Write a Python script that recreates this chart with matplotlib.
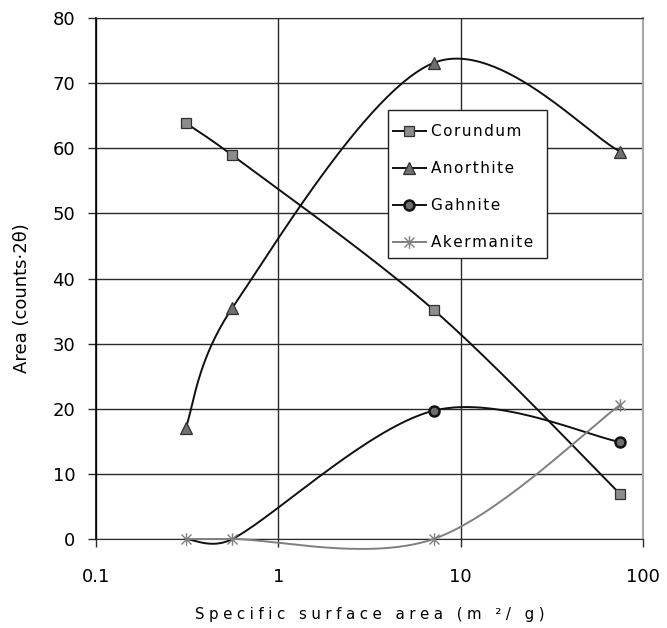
import numpy as np
import matplotlib
matplotlib.use('Agg')
import matplotlib.pyplot as plt
from matplotlib.lines import Line2D
from matplotlib.patches import Rectangle
from matplotlib.path import Path

# specific surface area (m2/g) and peak areas (counts*2theta)
ssa = [0.31, 0.56, 7.1, 75]
corundum = [63.9, 58.9, 35.2, 6.9]
anorthite = [17.0, 35.5, 73.1, 59.5]
gahnite = [0.0, 0.0, 19.7, 14.9]
akermanite = [0.0, 0.0, 0.0, 20.6]

names = ['Corundum', 'Anorthite', 'Gahnite', 'Akermanite']
x_ticks = [0.1, 1, 10, 100]
x_tick_labels = ['0.1', '1', '10', '100']
y_ticks = [0, 10, 20, 30, 40, 50, 60, 70, 80]

plt.rcParams['font.family'] = ['DejaVu Sans']


def spaced(s, gap='\u200a'):
    # wide letter spacing like the original chart font
    return gap.join(s)


def smooth_curve(ax, xs, ys, n=60):
    # spreadsheet-style bezier smoothing done in screen space
    pts = ax.transData.transform(np.column_stack([xs, ys]))
    m = len(pts)
    out = [pts[0]]
    t = np.linspace(0, 1, n)[1:, None]
    for i in range(m - 1):
        p0 = pts[i - 1] if i > 0 else pts[i]
        p1, p2 = pts[i], pts[i + 1]
        p3 = pts[i + 2] if i + 2 < m else pts[i + 1]
        half = np.hypot(*(p2 - p1)) / 2
        d1 = (p2 - p0) / 6
        d2 = (p3 - p1) / 6
        for d in (d1, d2):
            L = np.hypot(*d)
            if L > half:
                d *= half / L
        b1, b2 = p1 + d1, p2 - d2
        seg = (1 - t) ** 3 * p1 + 3 * (1 - t) ** 2 * t * b1 + 3 * (1 - t) * t ** 2 * b2 + t ** 3 * p2
        out.extend(seg)
    xy = ax.transData.inverted().transform(np.array(out))
    return xy[:, 0], xy[:, 1]


star = Path([(-1, -1), (1, 1), (-1, 1), (1, -1), (0, -1.25), (0, 1.25)],
            [Path.MOVETO, Path.LINETO, Path.MOVETO, Path.LINETO, Path.MOVETO, Path.LINETO])

fig = plt.figure(figsize=(6.67, 6.28), dpi=100)
ax = fig.add_axes([96 / 667, 89 / 628, 547 / 667, 521 / 628])
ax.set_xscale('log')
ax.set_xlim(0.1, 100)
ax.set_ylim(0, 80)
ax.set_xticks(x_ticks)
ax.set_xticklabels(x_tick_labels)
ax.set_yticks(y_ticks)
ax.minorticks_off()
ax.set_axisbelow(True)
ax.grid(True, color='#2a2a2a', linewidth=1.0)
ax.tick_params(direction='out', length=6, width=1.0, color='#2a2a2a', labelsize=13)
ax.tick_params(axis='y', pad=9)
ax.tick_params(axis='x', pad=15)
ax.spines['left'].set_color('black')
ax.spines['left'].set_linewidth(1.2)
ax.spines['bottom'].set_color('#2a2a2a')
ax.spines['top'].set_color('#2a2a2a')
ax.spines['right'].set_color('#a8a8a8')
ax.spines['right'].set_linewidth(1.5)

dark = '#101010'
grey = '#7f7f7f'
lw = 1.4

series = [
    (corundum, dark, dict(marker='s', ms=7.2, mfc='#8c8c8c', mec='#303030', mew=0.9), None),
    (anorthite, dark, dict(marker='^', ms=8.0, mfc='#707070', mec='#303030', mew=0.9), None),
    (gahnite, dark, dict(marker='o', ms=7.2, mfc='#6e6e6e', mec='#111111', mew=1.8), [2, 3]),
    (akermanite, grey, dict(marker=star, ms=9.0, mfc='none', mec=grey, mew=1.0), None),
]

handles = []
for vals, col, mk, every in series:
    sx, sy = smooth_curve(ax, ssa, vals)
    ax.plot(sx, sy, color=col, lw=lw, solid_capstyle='round', zorder=3, clip_on=False)
    idx = every if every is not None else list(range(len(ssa)))
    ax.plot([ssa[i] for i in idx], [vals[i] for i in idx], ls='none', zorder=4,
            clip_on=False, **mk)
    handles.append(Line2D([], [], color=col, lw=lw, **mk))

# legend box drawn separately so the padding can differ per side
ax.add_patch(Rectangle((0.5338, 0.5393), 0.2907, 0.2841, transform=ax.transAxes,
                       facecolor='white', edgecolor='#202020', lw=1.0, zorder=5))
leg = ax.legend(handles, [spaced(s) for s in names],
                loc='upper left', bbox_to_anchor=(0.5424, 0.796), borderaxespad=0,
                fontsize=11, frameon=False, borderpad=0, labelspacing=1.44,
                handlelength=2.15, handletextpad=0.39, numpoints=1)
leg.set_zorder(6)

ax.set_xlabel(spaced('Specific surface area (m ²/ g)', '\u2009\u200a'), fontsize=10.8,
              labelpad=15)
fig.text(22 / 667, 1 - 298 / 628, 'Area (counts·2θ)', rotation=90, fontsize=13,
         ha='center', va='center')

fig.savefig('out.png', dpi=100)
